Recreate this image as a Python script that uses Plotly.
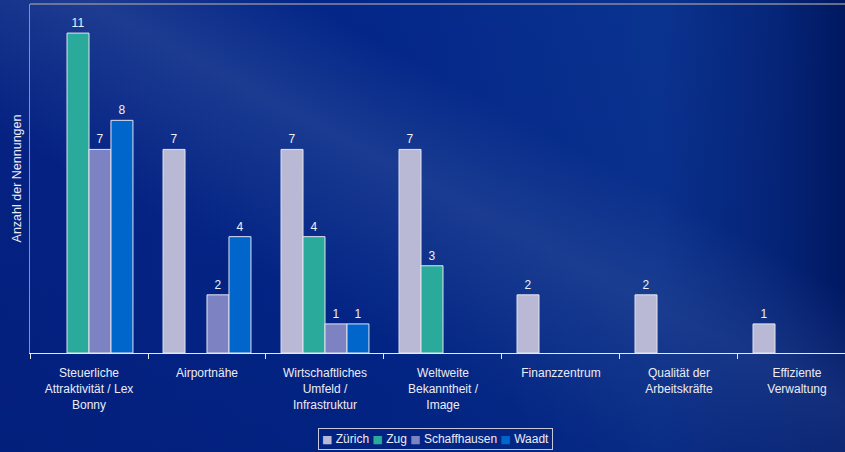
import base64
import plotly.graph_objects as go

categories = [
    "Steuerliche<br>Attraktivität / Lex<br>Bonny",
    "Airportnähe",
    "Wirtschaftliches<br>Umfeld /<br>Infrastruktur",
    "Weltweite<br>Bekanntheit /<br>Image",
    "Finanzzentrum",
    "Qualität der<br>Arbeitskräfte",
    "Effiziente<br>Verwaltung",
]
zuerich = [None, 7, 7, 7, 2, 2, 1]
zug = [11, None, 4, 3, None, None, None]
schaffhausen = [7, 2, 1, None, None, None, None]
waadt = [8, 4, 1, None, None, None, None]

series = [
    ("Zürich", zuerich, "#b9b9d6"),
    ("Zug", zug, "#2aaa9b"),
    ("Schaffhausen", schaffhausen, "#7d82c2"),
    ("Waadt", waadt, "#0066cc"),
]

FONT = "Liberation Sans, Arial, sans-serif"

# dark blue slide background with a soft lighter diagonal streak
svg = """<svg xmlns='http://www.w3.org/2000/svg' width='845' height='452'>
<defs>
<linearGradient id='h' x1='0' y1='0' x2='1' y2='0'>
<stop offset='0' stop-color='#052283'/>
<stop offset='0.45' stop-color='#03278a'/>
<stop offset='0.78' stop-color='#0a3390'/>
<stop offset='0.92' stop-color='#052578'/>
<stop offset='1' stop-color='#001860'/>
</linearGradient>
<linearGradient id='s' x1='0' y1='1' x2='1' y2='0'>
<stop offset='0.35' stop-color='#3a5aa0' stop-opacity='0'/>
<stop offset='0.55' stop-color='#3a5aa0' stop-opacity='0.45'/>
<stop offset='0.68' stop-color='#3a5aa0' stop-opacity='0'/>
</linearGradient>
<linearGradient id='v' x1='0' y1='0' x2='0' y2='1'>
<stop offset='0' stop-color='#001a70' stop-opacity='0'/>
<stop offset='0.6' stop-color='#001a70' stop-opacity='0.15'/>
<stop offset='1' stop-color='#001a70' stop-opacity='0.35'/>
</linearGradient>
</defs>
<rect width='845' height='452' fill='url(#h)'/>
<rect width='845' height='452' fill='url(#s)'/>
<rect width='845' height='452' fill='url(#v)'/>
</svg>"""
bg_uri = "data:image/svg+xml;base64," + base64.b64encode(svg.encode()).decode()

fig = go.Figure()
for name, vals, color in series:
    fig.add_trace(go.Bar(
        name=name,
        x=categories,
        y=vals,
        marker=dict(color=color, line=dict(color="#e4e4f0", width=1)),
        text=[str(v) if v else "" for v in vals],
        textposition="outside",
        textfont=dict(color="#f0f0f8", size=12, family=FONT),
        cliponaxis=False,
        showlegend=False,
    ))

# compact boxed legend line: coloured squares followed by series names
legend_text = "&nbsp;".join(
    f"<span style='color:{color};font-family:DejaVu Sans;font-size:11px'>■</span>&nbsp;{name}"
    for name, _, color in series
)

fig.update_layout(
    width=845,
    height=452,
    margin=dict(l=30, r=0, t=4, b=99, autoexpand=False),
    paper_bgcolor="#04237f",
    plot_bgcolor="rgba(0,0,0,0)",
    barmode="group",
    bargap=0.255,
    bargroupgap=0,
    font=dict(family=FONT, color="#ececf4", size=12),
    images=[dict(source=bg_uri, xref="paper", yref="paper", x=-30 / 815, y=1 + 4 / 349,
                 sizex=845 / 815, sizey=452 / 349, sizing="stretch", layer="below",
                 xanchor="left", yanchor="top")],
    xaxis=dict(
        range=[-0.5, 6.407],
        showgrid=False,
        showline=True,
        linecolor="#e8e8f0",
        linewidth=1,
        ticks="outside",
        tickson="boundaries",
        ticklen=5,
        tickcolor="#e8e8f0",
        tickfont=dict(size=12, color="#ececf4"),
        ticklabelstandoff=9,
    ),
    yaxis=dict(
        range=[0, 12],
        showgrid=False,
        zeroline=False,
        showticklabels=False,
        showline=True,
        linecolor="#8a90b0",
        linewidth=1,
        title=dict(text="Anzahl der Nennungen", font=dict(size=12.5, color="#ececf4"), standoff=4),
    ),
    annotations=[dict(
        text=legend_text,
        xref="paper", yref="paper",
        x=0.498, y=-0.246,
        xanchor="center", yanchor="middle",
        showarrow=False,
        font=dict(size=12, color="#ececf4", family=FONT),
        bordercolor="#c8c8d8",
        borderwidth=1,
        borderpad=3,
    )],
    shapes=[dict(type="line", xref="paper", yref="paper", x0=0, x1=1, y0=1, y1=1,
                 line=dict(color="#8a8a9c", width=1.5))],
)

fig.write_html("out.html")
